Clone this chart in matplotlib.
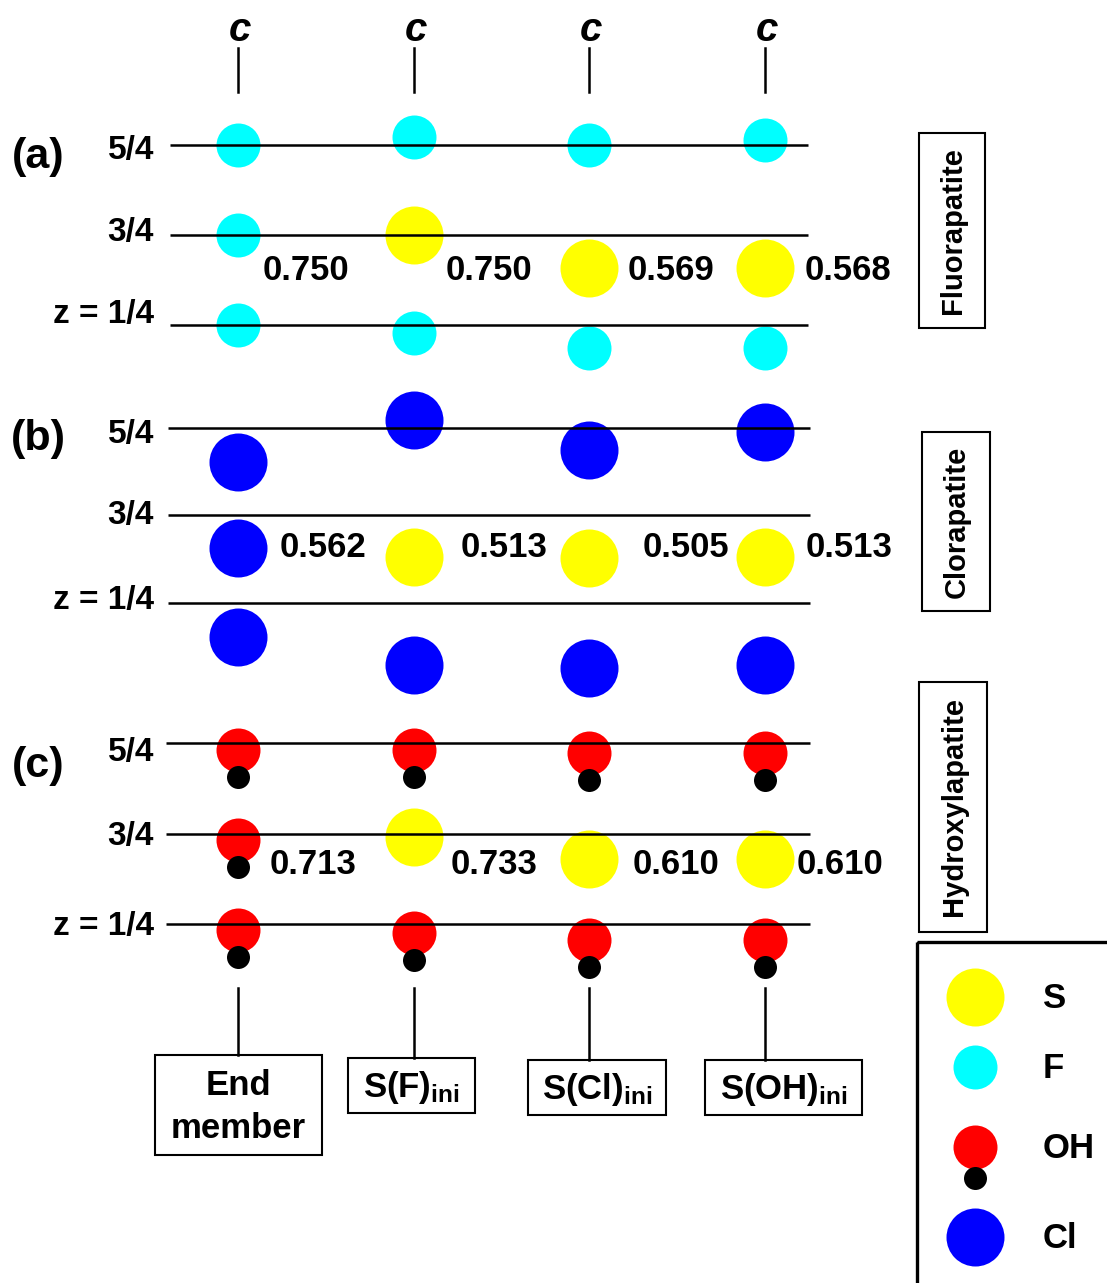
import matplotlib
matplotlib.use('Agg')
import matplotlib.pyplot as plt
from matplotlib.patches import Rectangle

plt.rcParams['font.family'] = ['Liberation Sans', 'DejaVu Sans']
plt.rcParams['font.weight'] = 'bold'
plt.rcParams['mathtext.fontset'] = 'custom'
plt.rcParams['mathtext.rm'] = 'Liberation Sans:bold'
plt.rcParams['mathtext.bf'] = 'Liberation Sans:bold'
plt.rcParams['mathtext.it'] = 'Liberation Sans:bold:italic'

# ---------------- data ----------------
column_labels = ['End\nmember', r'S(F)$_{\rm ini}$', r'S(Cl)$_{\rm ini}$', r'S(OH)$_{\rm ini}$']
levels = [0.25, 0.75, 1.25]
level_labels = ['z = 1/4', '3/4', '5/4']
panel_letters = ['(a)', '(b)', '(c)']
panel_names = ['Fluorapatite', 'Clorapatite', 'Hydroxylapatite']

# (a) Fluorapatite
a_F_col = [0, 0, 0, 1, 1, 2, 2, 3, 3]
a_F_z = [1.25, 0.75, 0.25, 1.294, 0.206, 1.25, 0.122, 1.278, 0.122]
a_S_col = [1, 2, 3]
a_S_z = [0.750, 0.569, 0.568]
a_values = ['0.750', '0.750', '0.569', '0.568']

# (b) Clorapatite
b_Cl_col = [0, 0, 0, 1, 1, 2, 2, 3, 3]
b_Cl_z = [1.056, 0.562, 0.056, 1.296, -0.104, 1.124, -0.121, 1.227, -0.104]
b_S_col = [1, 2, 3]
b_S_z = [0.513, 0.505, 0.513]
b_values = ['0.562', '0.513', '0.505', '0.513']

# (c) Hydroxylapatite
c_OH_col = [0, 0, 0, 1, 1, 2, 2, 3, 3]
c_OH_z = [1.211, 0.713, 0.217, 1.211, 0.200, 1.195, 0.162, 1.195, 0.162]
c_S_col = [1, 2, 3]
c_S_z = [0.733, 0.610, 0.610]
c_values = ['0.713', '0.733', '0.610', '0.610']
oh_bond_dz = 0.15

legend_labels = ['S', 'F', 'OH', 'Cl']

# ---------------- style / layout ----------------
COL = {'S': '#FFFF00', 'F': '#00FFFF', 'OH': '#FF0000', 'H': '#000000', 'Cl': '#0000FF'}
W, H = 1107, 1283
col_x0, col_dx = 238.0, 175.7
FS = 25


def s_of(d_px):
    return (d_px * 0.72) ** 2


D = {'S': 58, 'F': 44, 'OH': 44, 'H': 23, 'Cl': 58}

fig = plt.figure(figsize=(W / 100, H / 100), dpi=100)
xlim = (-col_x0 / col_dx, (W - col_x0) / col_dx)


def px2col(px):
    return (px - col_x0) / col_dx


panels = [
    dict(base=325, scale=180, x0=170, x1=808, vz=0.567, vdx=[25, 32, 38, 40],
         ldy=[11, 3, -5],
         atoms=[('F', a_F_col, a_F_z), ('S', a_S_col, a_S_z)], values=a_values),
    dict(base=603, scale=175, x0=168, x1=810, vz=0.587, vdx=[42, 47, 53, 41],
         ldy=[2, 0, -7],
         atoms=[('Cl', b_Cl_col, b_Cl_z), ('S', b_S_col, b_S_z)], values=b_values),
    dict(base=924, scale=181, x0=166, x1=810, vz=0.598, vdx=[32, 37, 43, 32],
         ldy=[-3, -3, -9],
         atoms=[('OH', c_OH_col, c_OH_z), ('S', c_S_col, c_S_z)], values=c_values),
]

for p in panels:
    ax = fig.add_axes([0, 0, 1, 1])
    ax.patch.set_alpha(0)
    ax.set_axis_off()
    ax.set_xlim(*xlim)
    ax.set_ylim(0.25 + (p['base'] - H) / p['scale'], 0.25 + p['base'] / p['scale'])
    for name, cols, zs in p['atoms']:
        ax.scatter(cols, zs, s=s_of(D[name]), color=COL[name], linewidths=0,
                   zorder=2, clip_on=False)
        if name == 'OH':
            ax.scatter(cols, [z - oh_bond_dz for z in zs], s=s_of(D['H']),
                       color=COL['H'], linewidths=0, zorder=3, clip_on=False)
    ax.hlines(levels, px2col(p['x0']), px2col(p['x1']), color='black', lw=1.8,
              zorder=4)
    for lev, lab, dy in zip(levels, level_labels, p['ldy']):
        ax.annotate(lab, xy=(px2col(154), lev), xytext=(0, dy),
                    textcoords='offset pixels', ha='right', va='center',
                    fontsize=24, fontweight='bold')
    for i, (v, dx) in enumerate(zip(p['values'], p['vdx'])):
        ax.annotate(v, xy=(i, p['vz']), xytext=(dx, -3), textcoords='offset pixels',
                    ha='left', va='center', fontsize=FS, fontweight='bold')

# ---------------- overlay: axis markers, boxes, legend ----------------
ax0 = fig.add_axes([0, 0, 1, 1])
ax0.patch.set_alpha(0)
ax0.set_axis_off()
ax0.set_xlim(0, W)
ax0.set_ylim(H, 0)

col_px = [col_x0 + i * col_dx for i in range(4)]
for x in col_px:
    ax0.text(x + 2, 30, 'c', fontsize=29, fontweight='bold', style='italic',
             ha='center', va='center')
    ax0.plot([x, x], [48, 92], color='black', lw=1.8)

for letter, y in zip(panel_letters, [157, 439, 766]):
    ax0.text(38, y, letter, fontsize=31, fontweight='bold', ha='center', va='center')

# bottom labels boxes
boxes = [(155, 1055, 322, 1155), (348, 1058, 475, 1113),
         (528, 1060, 666, 1115), (705, 1060, 862, 1115)]
for x, lab, (bx0, by0, bx1, by1) in zip(col_px, column_labels, boxes):
    ax0.plot([x, x], [988, by0], color='black', lw=1.8)
    ax0.add_patch(Rectangle((bx0, by0), bx1 - bx0, by1 - by0, fill=False,
                            ec='black', lw=1.5))
    ax0.text((bx0 + bx1) / 2, (by0 + by1) / 2 + 2, lab, fontsize=FS,
             fontweight='bold', ha='center', va='center', linespacing=1.35)

# right side name boxes
name_boxes = [(919, 133, 985, 328), (922, 432, 990, 611), (919, 682, 987, 932)]
for name, (bx0, by0, bx1, by1) in zip(panel_names, name_boxes):
    ax0.add_patch(Rectangle((bx0, by0), bx1 - bx0, by1 - by0, fill=False,
                            ec='black', lw=1.5))
    ax0.text((bx0 + bx1) / 2 + 1, (by0 + by1) / 2, name, rotation=90, fontsize=21,
             fontweight='bold', ha='center', va='center')

# legend
ax0.add_patch(Rectangle((917, 942), 220, 400, fill=False, ec='black', lw=2.4,
                        clip_on=True))
leg_y = [997, 1067, 1147, 1237]
leg_keys = ['S', 'F', 'OH', 'Cl']
for key, lab, y in zip(leg_keys, legend_labels, leg_y):
    ax0.scatter([975], [y], s=s_of(D[key]), color=COL[key], linewidths=0, zorder=2)
    if key == 'OH':
        ax0.scatter([975], [y + 31], s=s_of(D['H']), color=COL['H'],
                    linewidths=0, zorder=3)
    ax0.text(1043, y + 2, lab, fontsize=FS, fontweight='bold', ha='left', va='center')

fig.savefig('out.png', dpi=100)
